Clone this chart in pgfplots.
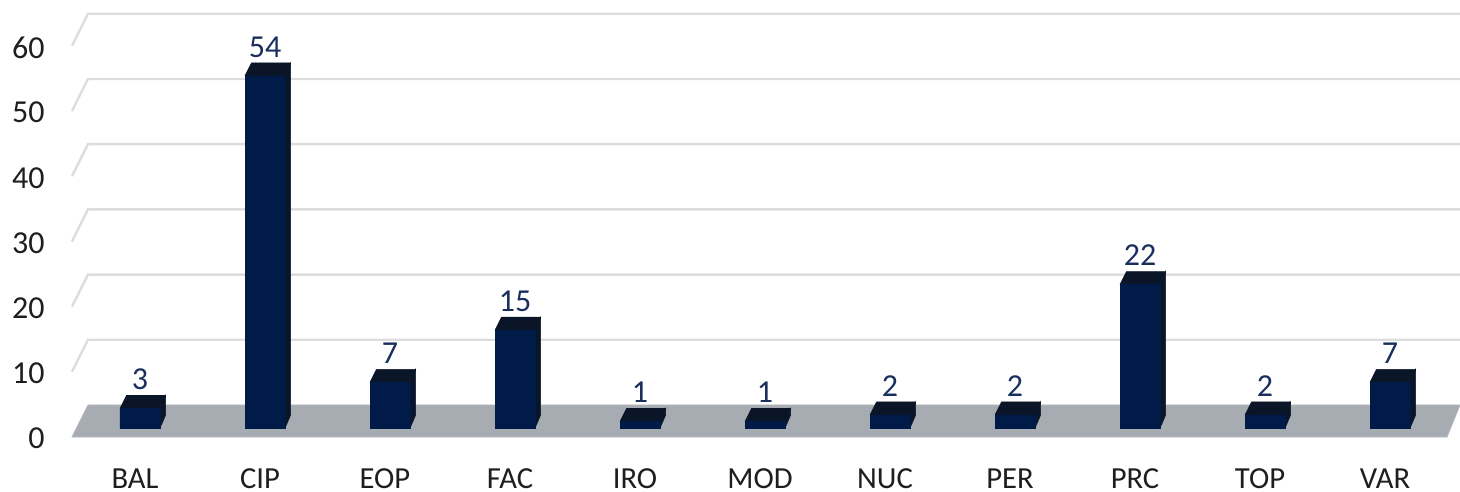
\documentclass[border=0pt]{standalone}
\usepackage{fontspec}
\setmainfont{Carlito}
\usepackage{pgfplots}
\usepackage{pgfplotstable}
\pgfplotsset{compat=1.18}
\definecolor{barfront}{HTML}{001B47}
\definecolor{barside}{HTML}{0A1528}
\definecolor{floorc}{HTML}{A7ABB2}
\definecolor{gridc}{HTML}{DDDDDD}
\definecolor{vallab}{HTML}{1A2F5E}
\definecolor{axlab}{HTML}{1E1E1E}

\pgfplotstableread{
x v
0 3
1 54
2 7
3 15
4 1
5 1
6 2
7 2
8 22
9 2
10 7
}\datatable

% top and right faces of one bar
\newcommand{\barfaces}[2]{%
  \pgfmathsetmacro{\xa}{#1-0.16}%
  \pgfmathsetmacro{\xb}{#1+0.16}%
  \pgfmathsetmacro{\xc}{#1-0.108}%
  \pgfmathsetmacro{\xd}{#1+0.205}%
  \pgfmathsetmacro{\yt}{#2+1.99}%
  \pgfmathsetmacro{\yd}{1.99}%
  \edef\doplot{%
    \noexpand\addplot[fill=barside, draw=barside, line width=0.3pt] coordinates {(\xa,#2) (\xc,\yt) (\xd,\yt) (\xb,#2)};
    \noexpand\addplot[fill=barside, draw=barside, line width=0.3pt] coordinates {(\xb,0) (\xd,\yd) (\xd,\yt) (\xb,#2)};
  }\doplot
}

\begin{document}
\begin{tikzpicture}
\begin{axis}[
    scale only axis,
    width=694pt,
    height=218.5pt,
    xmin=-0.544, xmax=10.56,
    ymin=-1.38, ymax=65.64,
    clip=false,
    axis line style={draw=none},
    tick style={draw=none},
    xtick={0,...,10},
    xticklabels={BAL,CIP,EOP,FAC,IRO,MOD,NUC,PER,PRC,TOP,VAR},
    ytick={-1.38,8.62,18.62,28.62,38.62,48.62,58.62},
    yticklabels={0,10,20,30,40,50,60},
    tick label style={text=axlab},
    x tick label style={anchor=base, inner sep=0pt, xshift=-2.5pt, yshift=-25.5pt, font=\fontsize{15.3}{15}\selectfont},
    y tick label style={anchor=east, inner sep=0pt, xshift=-13.5pt, yshift=-0.8pt, font=\fontsize{16}{16}\selectfont},
    /pgf/number format/assume math mode=true,
]
% back wall grid with the short slanted stubs on the left
\pgfplotsforeachungrouped \k in {10,20,30,40,50,60} {
  \pgfmathsetmacro{\yf}{\k-1.38}
  \pgfmathsetmacro{\yb}{\k+3.53}
  \edef\doplot{\noexpand\addplot[gridc, line width=1.2pt] coordinates {(-0.544,\yf) (-0.416,\yb) (10.56,\yb)};}
  \doplot
}
% floor
\addplot[fill=floorc, draw=floorc!85!white, line width=0.4pt] coordinates {(-0.544,-1.38) (-0.416,3.53) (10.56,3.53) (10.456,-1.38)} -- cycle;
% bars
\pgfplotsforeachungrouped \i in {0,...,10} {
  \pgfplotstablegetelem{\i}{v}\of\datatable
  \edef\val{\pgfplotsretval}
  \expandafter\barfaces\expandafter{\i}{\val}
}
\addplot[ybar, bar width=20pt, bar shift=0pt, fill=barfront, draw=barfront, line width=0.3pt,
    nodes near coords,
    every node near coord/.append style={anchor=center, yshift=14.5pt, text=vallab, font=\fontsize{16}{16}\selectfont},
] table[x=x, y=v] {\datatable};
\end{axis}
\pgfresetboundingbox
\path[use as bounding box] (-36pt,-27.5pt) rectangle (694pt,218.5pt);
\end{tikzpicture}
\end{document}
